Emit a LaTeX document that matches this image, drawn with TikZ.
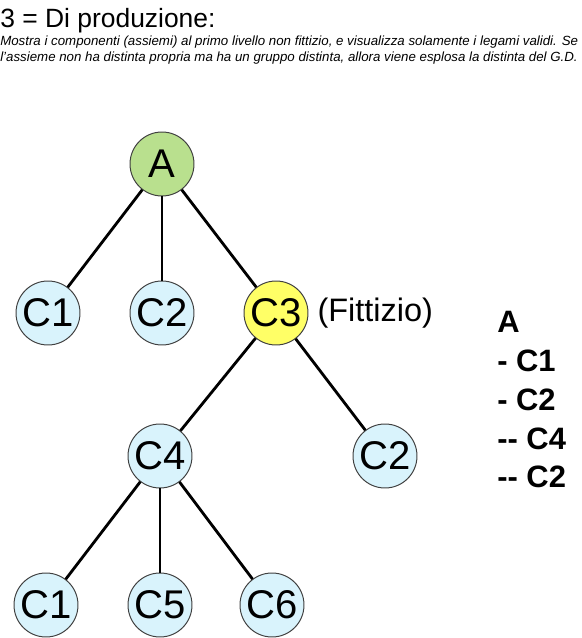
\documentclass[tikz,border=0pt]{standalone}
\usepackage{fontspec}
\setmainfont{Liberation Sans}
\usetikzlibrary{positioning}
\definecolor{rootgreen}{RGB}{185,224,142}
\definecolor{fakeyellow}{RGB}{255,255,102}
\definecolor{partblue}{RGB}{217,243,252}
\definecolor{rimgray}{RGB}{64,64,64}
\begin{document}
\begin{tikzpicture}[
		part/.style={circle,draw=rimgray,line width=0.7pt,fill=partblue,minimum size=1.6cm,inner sep=0pt,font=\fontsize{28.5}{30}\selectfont},
		link/.style={line width=2pt}]
		\useasboundingbox (0,0) rectangle (14.55,15.95);
		\node [anchor=base west,inner sep=0pt,font=\fontsize{18.8}{20}\selectfont] (title) at (0,15.26) {3 = Di produzione:};
		\node [anchor=base west,inner sep=0pt,font=\fontsize{9.45}{10}\selectfont\itshape] (line1) at (0,14.8) {Mostra i componenti (assiemi) al primo livello non fittizio, e visualizza solamente i legami validi. Se};
		\node [anchor=base west,inner sep=0pt,font=\fontsize{9.45}{10}\selectfont\itshape] (line2) at (0,14.42) {l'assieme non ha distinta propria ma ha un gruppo distinta, allora viene esplosa la distinta del G.D.};
		\node [part,fill=rootgreen] (a) at (4.05,11.85) {A};
		\node [part] (c1) at (1.2,8.125) {C1};
		\node [part] (c2) at (4.05,8.125) {C2};
		\node [part,fill=fakeyellow] (c3) at (6.9,8.125) {C3};
		\node [right=0.22cm of c3,inner sep=0pt,font=\fontsize{23.1}{25}\selectfont] (fake) {(Fittizio)};
		\node [part] (c4) at (4.0,4.55) {C4};
		\node [part] (c2b) at (9.625,4.55) {C2};
		\node [part] (c1b) at (1.15,0.825) {C1};
		\node [part] (c5) at (4.0,0.825) {C5};
		\node [part] (c6) at (6.8,0.825) {C6};
		\draw [link] (a) -- (c1);
		\draw [link] (a) -- (c2);
		\draw [link] (a) -- (c3);
		\draw [link] (c3) -- (c4);
		\draw [link] (c3) -- (c2b);
		\draw [link] (c4) -- (c1b);
		\draw [link] (c4) -- (c5);
		\draw [link] (c4) -- (c6);
		\node [anchor=base west,inner sep=0pt,align=left,font=\fontsize{22}{27.6}\selectfont\bfseries] (bom) at (12.425,3.75) {A\\- C1\\- C2\\-{}- C4\\-{}- C2};
		\end{tikzpicture}
\end{document}
